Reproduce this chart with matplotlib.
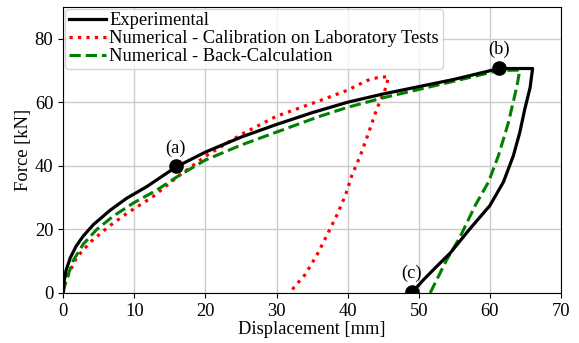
import numpy as np
from matplotlib import pyplot as plt

plt.rcParams['font.family'] = ['Liberation Serif', 'DejaVu Serif']

# experimental curve (loading, plateau, unloading)
exp_x = [0.0, 0.1, 0.4, 1.0, 1.8, 2.8, 4.26, 6.6, 8.95, 11.8, 15.85, 20.0,
         25.0, 30.0, 35.0, 40.0, 45.0, 50.0, 55.0, 61.3, 66.0,
         65.65, 64.9, 64.2, 63.3, 61.9, 60.0, 57.2, 54.4, 52.5, 50.65, 49.0]
exp_y = [0.0, 3.0, 7.0, 11.0, 14.6, 17.8, 21.5, 26.0, 29.8, 33.5, 39.6, 44.3,
         49.0, 53.0, 56.7, 60.0, 62.6, 64.9, 67.2, 70.6, 70.6,
         64.6, 57.8, 50.5, 43.2, 34.9, 27.5, 20.2, 12.5, 8.3, 4.1, 0.0]

# numerical - calibration on laboratory tests
cal_x = [0.0, 0.3, 0.9, 1.93, 4.03, 6.37, 8.95, 12.7, 16.0, 20.0, 25.0, 30.0,
         36.1, 40.0, 42.7, 44.6, 45.75,
         45.3, 44.1, 42.9, 41.8, 40.6, 39.7, 38.5, 37.1, 35.7, 34.0, 32.4,
         32.0]
cal_y = [0.0, 3.0, 6.5, 11.3, 16.4, 20.8, 25.0, 30.4, 36.4, 43.0, 49.8, 55.6,
         60.5, 63.8, 66.8, 68.0, 67.9,
         64.2, 57.9, 50.1, 43.3, 37.0, 30.8, 24.5, 18.2, 12.0, 5.7, 1.6,
         0.0]

# numerical - back-calculation
bc_x = [0.0, 0.42, 1.45, 2.85, 4.7, 7.07, 9.9, 13.2, 16.2, 20.0, 25.0,
        30.0, 36.0, 40.0, 45.0, 50.0, 57.2, 61.3, 64.2,
        63.8, 62.6, 61.2, 59.8, 58.0, 55.8, 53.9, 51.6]
bc_y = [0.0, 4.0, 10.3, 15.4, 19.9, 24.2, 28.3, 32.4, 36.8, 41.8, 46.5,
        50.6, 55.5, 58.4, 61.4, 64.0, 67.8, 70.0, 70.1,
        65.1, 53.6, 43.2, 34.9, 27.8, 17.6, 10.3, 0.0]

# labelled points
pt_labels = ['(a)', '(b)', '(c)']
pt_x = [15.85, 61.3, 49.0]
pt_y = [39.8, 70.8, 0.3]

FS = 13.3

fig, ax = plt.subplots(figsize=(5.79, 3.43), dpi=100)
fig.subplots_adjust(left=0.109, right=0.969, top=0.98, bottom=0.146)

ax.plot(exp_x, exp_y, color='black', linewidth=2.3, label='Experimental',
        zorder=4)
ax.plot(cal_x, cal_y, color='red', linewidth=2.3, linestyle=':',
        label='Numerical - Calibration on Laboratory Tests', zorder=3)
ax.plot(bc_x, bc_y, color='green', linewidth=2.2, linestyle='--',
        label='Numerical - Back-Calculation', zorder=3)

ax.plot(pt_x, pt_y, 'o', color='black', markersize=9.5, zorder=5)
for lab, x, y in zip(pt_labels, pt_x, pt_y):
    ax.annotate(lab, (x, y), xytext=(0, 7), textcoords='offset points',
                ha='center', va='bottom', fontsize=FS)

ax.set_xlim(0, 70)
ax.set_ylim(0, 90)
ax.set_xticks(np.arange(0, 71, 10))
ax.set_yticks(np.arange(0, 81, 20))
ax.tick_params(labelsize=FS)
ax.grid(True, color='#cccccc', linewidth=1)
ax.set_axisbelow(True)
ax.set_xlabel('Displacement [mm]', fontsize=FS, labelpad=1)
ax.set_ylabel('Force [kN]', fontsize=FS, labelpad=2)

ax.legend(loc='upper left', fontsize=FS, borderaxespad=0.1,
          handlelength=2.0, handletextpad=0.2, labelspacing=0.05,
          borderpad=0.2)

plt.savefig('out.png', dpi=100)
